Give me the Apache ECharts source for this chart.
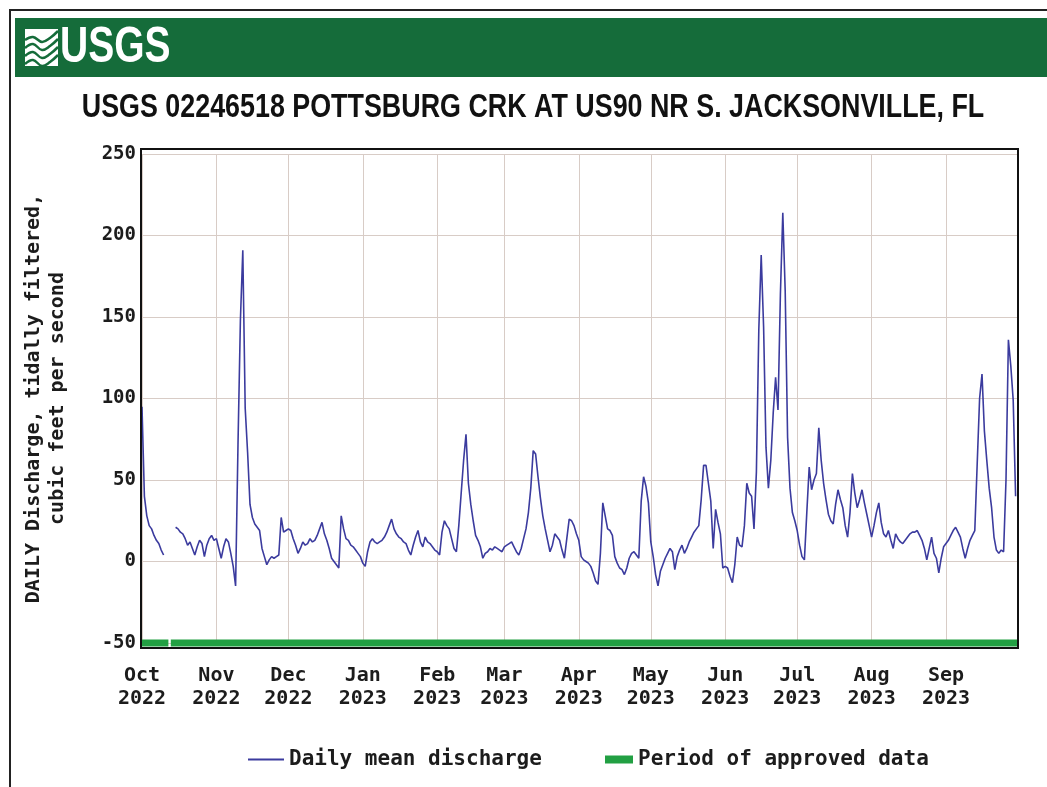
<!DOCTYPE html>
<html>
<head>
<meta charset="utf-8">
<title>USGS 02246518 Pottsburg Crk</title>
<script src="https://cdn.jsdelivr.net/npm/echarts@6/dist/echarts.min.js"></script>
<style>
  html, body { margin: 0; padding: 0; background: #fff; }
  #main { width: 1047px; height: 787px; }
</style>
</head>
<body>
<div id="main"></div>
<script>
// data
var stationTitle = 'USGS 02246518 POTTSBURG CRK AT US90 NR S. JACKSONVILLE, FL';
var startDay = '2022-10-01';
var endDay = '2023-10-01';
var monthStarts = ['2022-10-01', '2022-11-01', '2022-12-01', '2023-01-01', '2023-02-01', '2023-03-01',
  '2023-04-01', '2023-05-01', '2023-06-01', '2023-07-01', '2023-08-01', '2023-09-01'];
var monthLabels = ['Oct\n2022', 'Nov\n2022', 'Dec\n2022', 'Jan\n2023', 'Feb\n2023', 'Mar\n2023',
  'Apr\n2023', 'May\n2023', 'Jun\n2023', 'Jul\n2023', 'Aug\n2023', 'Sep\n2023'];
var yTicks = [-50, 0, 50, 100, 150, 200, 250];

// daily mean discharge, one value per day from Oct 1 2022 (null = no data)
var discharge = [
  // Oct
  95, 40, 28, 22, 20, 16, 13, 11, 7, 4, null, null, null, null, 21, 20, 18, 17, 14, 10,
  12, 8, 4, 9, 13, 11, 3, 10, 14, 16, 13,
  // Nov
  14, 8, 2, 9, 14, 12, 5, -3, -15, 72, 148, 191, 94, 67, 35, 27, 23, 21, 19, 8,
  3, -2, 1, 3, 2, 3, 4, 27, 18, 19,
  // Dec
  20, 19, 14, 10, 5, 8, 12, 10, 11, 14, 12, 13, 16, 20, 24, 17, 13, 8, 2, 0,
  -2, -4, 28, 20, 14, 13, 10, 9, 7, 5, 3,
  // Jan
  -1, -3, 6, 12, 14, 12, 11, 12, 13, 15, 18, 22, 26, 20, 17, 15, 14, 12, 11, 7,
  4, 10, 15, 19, 12, 9, 15, 12, 11, 9, 7,
  // Feb
  6, 4, 18, 25, 22, 20, 14, 8, 6, 22, 42, 62, 78, 48, 35, 25, 16, 13, 9, 2,
  5, 6, 8, 7, 9, 8, 7, 6,
  // Mar
  9, 10, 11, 12, 9, 6, 4, 8, 14, 20, 30, 45, 68, 66, 52, 39, 28, 20, 13, 6,
  10, 17, 15, 13, 7, 2, 14, 26, 25, 22, 17,
  // Apr
  13, 3, 1, 0, -1, -3, -7, -12, -14, 5, 36, 28, 20, 19, 16, 3, -1, -4, -5, -8,
  -4, 2, 5, 6, 4, 2, 37, 52, 46, 36,
  // May
  12, 3, -8, -15, -6, -2, 2, 5, 8, 6, -5, 3, 7, 10, 5, 8, 12, 15, 18, 20,
  22, 38, 59, 59, 48, 37, 8, 32, 24, 17, -4,
  // Jun
  -3, -4, -9, -13, -2, 15, 10, 9, 22, 48, 42, 40, 20, 55, 142, 188, 144, 70, 45, 62,
  91, 113, 93, 164, 214, 166, 76, 45, 30, 25,
  // Jul
  19, 10, 3, 1, 30, 58, 44, 50, 54, 82, 62, 48, 38, 29, 25, 23, 35, 44, 38, 33,
  22, 15, 30, 54, 42, 33, 38, 44, 36, 29, 22,
  // Aug
  15, 22, 30, 36, 24, 17, 15, 19, 13, 8, 17, 14, 12, 11, 13, 15, 17, 18, 18, 19,
  16, 13, 8, 1, 8, 15, 5, 2, -7, 2, 9,
  // Sep
  11, 13, 16, 19, 21, 18, 15, 8, 2, 8, 13, 16, 19, 60, 100, 115, 80, 62, 45, 33,
  15, 7, 5, 7, 6, 50, 136, 120, 99, 40
];

// period of approved data, drawn along the -50 line
var approvedLevel = -50;
var approvedPeriods = [['2022-10-01', '2022-10-12'], ['2022-10-13', '2023-10-01']];

// x axis is "days since Oct 1 2022"
var DAY = 86400000;
function utc(s) {
  var p = s.split('-');
  return Date.UTC(+p[0], +p[1] - 1, +p[2]);
}
function dayOf(s) {
  return Math.round((utc(s) - utc(startDay)) / DAY);
}

var dischargeData = discharge.map(function (v, i) { return [i, v]; });

var approvedData = [];
approvedPeriods.forEach(function (p, i) {
  if (i > 0) approvedData.push([dayOf(p[0]) - 0.5, null]);
  approvedData.push([dayOf(p[0]), approvedLevel]);
  approvedData.push([dayOf(p[1]), approvedLevel]);
});

var monthTicks = monthStarts.map(dayOf);

var monoFont = '"DejaVu Sans Mono", monospace';
var sansFont = '"Liberation Sans", Arial, sans-serif';
var gridColor = '#d8ccc6';
var textColor = '#1c1c1c';

var myChart = echarts.init(document.getElementById('main'));
var option = {
  animation: false,
  backgroundColor: '#fff',
  graphic: [
    // outer frame + USGS header band
    { type: 'rect', shape: { x: 10, y: 10, width: 1050, height: 790 },
      style: { fill: 'none', stroke: '#222', lineWidth: 2 } },
    { type: 'rect', shape: { x: 15, y: 18, width: 1040, height: 59 },
      style: { fill: '#156c3a' } },
    { type: 'rect', shape: { x: 25, y: 29, width: 33, height: 37 },
      style: { fill: '#fff' } },
    { type: 'polyline', shape: { points: [[25, 40], [33, 37], [42, 42], [50, 38], [58, 31]], smooth: 0.4 },
      style: { fill: 'none', stroke: '#156c3a', lineWidth: 2.5 } },
    { type: 'polyline', shape: { points: [[25, 48], [33, 44], [42, 50], [50, 46], [58, 39]], smooth: 0.4 },
      style: { fill: 'none', stroke: '#156c3a', lineWidth: 2.5 } },
    { type: 'polyline', shape: { points: [[25, 56], [33, 52], [42, 58], [50, 54], [58, 47]], smooth: 0.4 },
      style: { fill: 'none', stroke: '#156c3a', lineWidth: 2.5 } },
    { type: 'polyline', shape: { points: [[25, 64], [33, 60], [42, 66], [50, 62], [58, 55]], smooth: 0.4 },
      style: { fill: 'none', stroke: '#156c3a', lineWidth: 2.5 } },
    { type: 'text', x: 60, y: 48, scaleX: 0.78,
      style: { text: 'USGS', fill: '#fff', font: 'bold 50px ' + sansFont, textVerticalAlign: 'middle' } },
    // station title (condensed)
    { type: 'text', x: 533, y: 108, scaleX: 0.79,
      style: { text: stationTitle, fill: '#111', font: 'bold 34px ' + sansFont,
        textAlign: 'center', textVerticalAlign: 'middle' } },
    // plot frame
    { type: 'rect', z: 10, shape: { x: 141, y: 149, width: 877, height: 499 },
      style: { fill: 'none', stroke: '#111', lineWidth: 2 } }
  ],
  legend: [
    {
      data: ['Daily mean discharge'],
      left: 243, top: 744,
      icon: 'rect', itemWidth: 36, itemHeight: 2, itemGap: 7,
      textStyle: { fontFamily: monoFont, fontSize: 21, fontWeight: 'bold', color: textColor }
    },
    {
      data: ['Period of approved data'],
      left: 600, top: 744,
      icon: 'rect', itemWidth: 28, itemHeight: 8, itemGap: 7,
      textStyle: { fontFamily: monoFont, fontSize: 21, fontWeight: 'bold', color: textColor }
    }
  ],
  grid: { left: 142, right: 29, top: 154, bottom: 144, outerBoundsMode: 'none' },
  xAxis: {
    type: 'value',
    min: 0,
    max: dayOf(endDay),
    axisLine: { show: false },
    axisTick: { show: false, customValues: monthTicks },
    axisLabel: {
      customValues: monthTicks,
      formatter: function (v) {
        var i = monthTicks.indexOf(v);
        return i >= 0 ? monthLabels[i] : '';
      },
      fontFamily: monoFont, fontSize: 20, fontWeight: 'bold', color: textColor,
      lineHeight: 23, margin: 21
    },
    splitLine: { show: true, lineStyle: { color: gridColor, width: 1 } }
  },
  yAxis: {
    type: 'value',
    min: yTicks[0],
    max: yTicks[yTicks.length - 1],
    interval: 50,
    name: 'DAILY Discharge, tidally filtered,\ncubic feet per second',
    nameLocation: 'middle',
    nameGap: 72,
    nameMoveOverlap: false,
    nameTextStyle: { fontFamily: monoFont, fontSize: 20, fontWeight: 'bold', color: textColor,
      lineHeight: 24, align: 'center' },
    axisLine: { show: false },
    axisTick: { show: false },
    axisLabel: { fontFamily: monoFont, fontSize: 19, fontWeight: 'bold', color: textColor, margin: 6 },
    splitLine: { show: true, lineStyle: { color: gridColor, width: 1 } }
  },
  series: [
    {
      name: 'Period of approved data',
      type: 'line',
      data: approvedData,
      showSymbol: false,
      clip: false,
      connectNulls: false,
      z: 3,
      itemStyle: { color: '#22a043' },
      lineStyle: { color: '#22a043', width: 7, cap: 'butt' }
    },
    {
      name: 'Daily mean discharge',
      type: 'line',
      data: dischargeData,
      showSymbol: false,
      connectNulls: false,
      z: 4,
      itemStyle: { color: '#3b3b9e' },
      lineStyle: { color: '#3b3b9e', width: 1.6 }
    }
  ]
};
myChart.setOption(option);
</script>
</body>
</html>
